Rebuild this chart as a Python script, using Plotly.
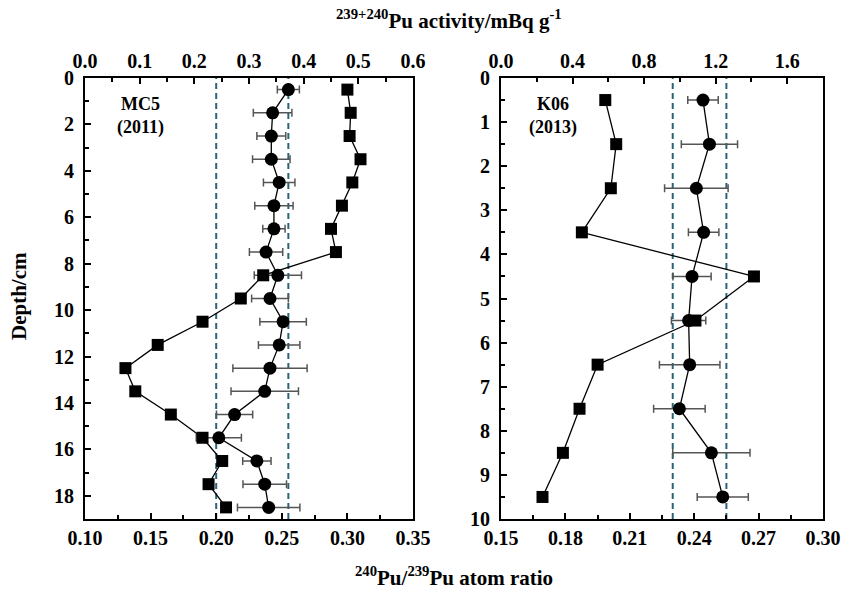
import plotly.graph_objects as go

# ---------------- data ----------------
# MC5 (2011) core, left panel
mc5_depth = [0.5, 1.5, 2.5, 3.5, 4.5, 5.5, 6.5, 7.5, 8.5, 9.5,
             10.5, 11.5, 12.5, 13.5, 14.5, 15.5, 16.5, 17.5, 18.5]
mc5_ratio = [0.255, 0.243, 0.242, 0.242, 0.248, 0.244, 0.244, 0.238, 0.247, 0.241,
             0.251, 0.248, 0.241, 0.237, 0.214, 0.202, 0.231, 0.237, 0.240]
mc5_ratio_err = [0.0084, 0.0147, 0.011, 0.0143, 0.012, 0.0146, 0.0085, 0.0127, 0.018, 0.014,
                 0.0177, 0.0158, 0.0283, 0.0257, 0.0138, 0.0172, 0.0108, 0.0166, 0.0238]
mc5_activity = [0.480, 0.486, 0.484, 0.504, 0.489, 0.470, 0.450, 0.459, 0.326, 0.285,
                0.215, 0.133, 0.074, 0.092, 0.157, 0.215, 0.251, 0.226, 0.258]

# K06 (2013) core, right panel
k06_depth = [0.5, 1.5, 2.5, 3.5, 4.5, 5.5, 6.5, 7.5, 8.5, 9.5]
k06_ratio = [0.2441, 0.2471, 0.2410, 0.2444, 0.2390, 0.2374, 0.2379, 0.2331, 0.2480, 0.2533]
k06_ratio_err = [0.0071, 0.0131, 0.0148, 0.0071, 0.0089, 0.0080, 0.0141, 0.0120, 0.0180, 0.0119]
k06_activity = [0.583, 0.644, 0.614, 0.452, 1.414, 1.087, 0.540, 0.439, 0.346, 0.232]

# reference band (dashed lines) on the atom-ratio axes
mc5_band = [0.200, 0.255]
k06_band = [0.230, 0.255]

# axis ranges
mc5_ratio_range = [0.10, 0.35]
mc5_act_range = [0.0, 0.6]
mc5_depth_range = [19, 0]
k06_ratio_range = [0.15, 0.30]
k06_act_range = [0.0, 1.8]
k06_depth_range = [10, 0]

FONT = "Liberation Serif"
BLACK = "#000000"
DASH = "#2a6478"
ERRC = "#555555"

fig = go.Figure()

def add_panel(depth, ratio, err, act, xr, xa, ya):
    # activity squares (top axis)
    fig.add_trace(go.Scatter(
        x=act, y=depth, xaxis=xa, yaxis=ya, mode="lines+markers",
        line=dict(color=BLACK, width=1.3),
        marker=dict(symbol="square", size=12, color=BLACK),
        showlegend=False, cliponaxis=False))
    # ratio circles (bottom axis) with error bars
    fig.add_trace(go.Scatter(
        x=ratio, y=depth, xaxis=xr, yaxis=ya, mode="lines+markers",
        line=dict(color=BLACK, width=1.3),
        marker=dict(symbol="circle", size=13, color=BLACK),
        error_x=dict(type="data", array=err, color=ERRC, thickness=1.5, width=4),
        showlegend=False, cliponaxis=False))

add_panel(mc5_depth, mc5_ratio, mc5_ratio_err, mc5_activity, "x", "x2", "y")
add_panel(k06_depth, k06_ratio, k06_ratio_err, k06_activity, "x3", "x4", "y2")

for v in mc5_band:
    fig.add_shape(type="line", xref="x", yref="y domain", x0=v, x1=v, y0=0, y1=1,
                  line=dict(color=DASH, width=2, dash="6px,4px"), layer="below")
for v in k06_band:
    fig.add_shape(type="line", xref="x3", yref="y2 domain", x0=v, x1=v, y0=0, y1=1,
                  line=dict(color=DASH, width=2, dash="6px,4px"), layer="below")

W, H = 859, 592
L_dom = [85 / W, 413 / W]
R_dom = [501 / W, 823 / W]
Y_dom = [1 - 519 / H, 1 - 78 / H]

tickfont = dict(family=FONT, size=20, color=BLACK, weight="bold")
common = dict(showline=True, linecolor=BLACK, linewidth=2, ticks="inside",
              tickcolor=BLACK, tickwidth=2, ticklen=6, showgrid=False,
              zeroline=False, tickfont=tickfont, automargin=False)
minor_kw = dict(ticks="inside", ticklen=4, tickcolor=BLACK, tickwidth=2)

fig.update_layout(
    width=W, height=H,
    margin=dict(l=0, r=0, t=0, b=0),
    paper_bgcolor="white", plot_bgcolor="white",
    xaxis=dict(domain=L_dom, range=mc5_ratio_range, anchor="y", side="bottom",
               dtick=0.05, tick0=0.10, tickformat=".2f", mirror=True,
               ticklabelstandoff=0, minor=dict(dtick=0.025, **minor_kw), **common),
    xaxis2=dict(domain=L_dom, range=mc5_act_range, anchor="y", overlaying="x", side="top",
                dtick=0.1, tick0=0, tickformat=".1f", ticklabelstandoff=0,
                minor=dict(dtick=0.05, **minor_kw), **common),
    yaxis=dict(domain=Y_dom, range=mc5_depth_range, anchor="x", dtick=2, tick0=0,
               mirror=True, ticklabelstandoff=5,
               minor=dict(dtick=1, **minor_kw), **common),
    xaxis3=dict(domain=R_dom, range=k06_ratio_range, anchor="y2", side="bottom",
                dtick=0.03, tick0=0.15, tickformat=".2f", mirror=True,
                ticklabelstandoff=0, minor=dict(dtick=0.015, **minor_kw), **common),
    xaxis4=dict(domain=R_dom, range=k06_act_range, anchor="y2", overlaying="x3", side="top",
                dtick=0.4, tick0=0, tickformat=".1f", ticklabelstandoff=0,
                minor=dict(dtick=0.2, **minor_kw), **common),
    yaxis2=dict(domain=Y_dom, range=k06_depth_range, anchor="x3", dtick=1, tick0=0,
                mirror=True, ticklabelstandoff=5,
                minor=dict(dtick=0.5, **minor_kw), **common),
)

tf = dict(family=FONT, size=21, color=BLACK, weight="bold")
lf = dict(family=FONT, size=18, color=BLACK, weight="bold")
fig.add_annotation(text="<sup>239+240</sup>Pu activity/mBq g<sup>-1</sup>", xref="paper", yref="paper",
                   x=449 / W, y=1 - 20 / H, showarrow=False, font=tf, xanchor="center", yanchor="middle")
fig.add_annotation(text="<sup>240</sup>Pu/<sup>239</sup>Pu atom ratio", xref="paper", yref="paper",
                   x=454 / W, y=1 - 576 / H, showarrow=False, font=tf, xanchor="center", yanchor="middle")
fig.add_annotation(text="Depth/cm", xref="paper", yref="paper", textangle=-90,
                   x=19 / W, y=1 - 296 / H, showarrow=False, font=tf, xanchor="center", yanchor="middle")
fig.add_annotation(text="MC5<br>(2011)", xref="paper", yref="paper",
                   x=140 / W, y=1 - 116 / H, showarrow=False, font=lf, xanchor="center", yanchor="middle")
fig.add_annotation(text="K06<br>(2013)", xref="paper", yref="paper",
                   x=553 / W, y=1 - 116 / H, showarrow=False, font=lf, xanchor="center", yanchor="middle")

fig.write_html("out.html", config={"displayModeBar": False},
               post_script="document.body.style.margin='0';document.body.style.overflow='hidden';")
